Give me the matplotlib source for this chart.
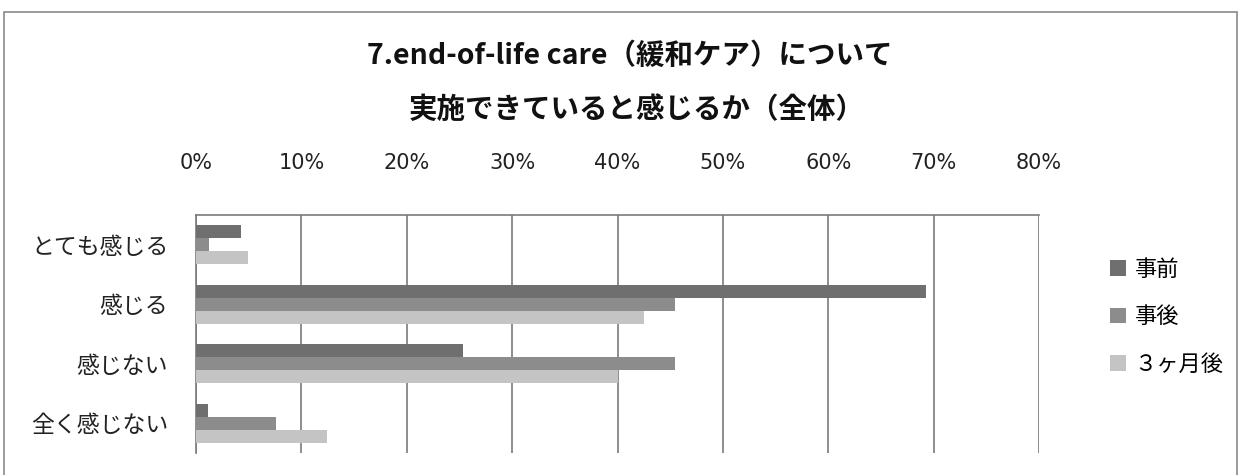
import matplotlib
matplotlib.use("Agg")
import matplotlib.pyplot as plt
import numpy as np
from matplotlib.patches import Rectangle

categories = ["とても感じる", "感じる", "感じない", "全く感じない"]
series_names = ["事前", "事後", "３ヶ月後"]
before = [4.3, 69.3, 25.3, 1.1]
after = [1.2, 45.5, 45.5, 7.6]
three_months = [4.9, 42.5, 40.0, 12.4]
tick_values = [0, 10, 20, 30, 40, 50, 60, 70, 80]
tick_labels = ["0%", "10%", "20%", "30%", "40%", "50%", "60%", "70%", "80%"]
title_lines = ["7.end-of-life care（緩和ケア）について", "実施できていると感じるか（全体）"]

colors = ["#6f6f6f", "#8c8c8c", "#c4c4c4"]
jp = ["Noto Sans CJK JP", "DejaVu Sans"]

W, H = 1243, 475
fig = plt.figure(figsize=(W / 100, H / 100), dpi=100)
fig.patch.set_facecolor("white")

# outer frame
fig.add_artist(Rectangle((4 / W, -0.1), (1237 - 4) / W, 1.1 - 12 / H,
                         transform=fig.transFigure, fill=False,
                         edgecolor="#8a8a8a", linewidth=1.2))

ax = fig.add_axes([196 / W, 1 - 453 / H, (1039 - 196) / W, (453 - 215) / H])

y = np.arange(len(categories))
h = 0.22
for i, (vals, name) in enumerate(zip([before, after, three_months], series_names)):
    ax.barh(y + (i - 1) * h, vals, height=h, color=colors[i], label=name,
            edgecolor="none", zorder=3)

ax.set_ylim(len(categories) - 0.5, -0.5)
ax.set_xlim(0, 80)
ax.set_yticks(y)
ax.set_yticklabels(categories, family=jp, fontsize=16.5, color="#222222")
ax.set_xticks(tick_values)
ax.set_xticklabels(tick_labels, family="DejaVu Sans", fontsize=15, color="#222222")
ax.xaxis.tick_top()
ax.tick_params(axis="x", length=0, pad=30)
ax.tick_params(axis="y", length=0, pad=20)
ax.grid(axis="x", color="#7a7a7a", linewidth=1.2, zorder=1)
for s in ["right", "bottom"]:
    ax.spines[s].set_visible(False)
for s in ["top", "left"]:
    ax.spines[s].set_color("#7a7a7a")
    ax.spines[s].set_linewidth(1.2)

fig.text(630 / W, 1 - 56 / H, title_lines[0], ha="center", va="center",
         family=jp, fontsize=20.5, fontweight="bold", color="#111111")
fig.text(637 / W, 1 - 110 / H, title_lines[1], ha="center", va="center",
         family=jp, fontsize=20.5, fontweight="bold", color="#111111")

leg = fig.legend(loc="upper left", bbox_to_anchor=(1090 / W, 1 - 238 / H),
                 frameon=False, prop={"family": jp, "size": 16},
                 handlelength=0.7, handleheight=0.7, handletextpad=0.4,
                 labelspacing=1.1)

fig.savefig("out.png", dpi=100, facecolor="white")
